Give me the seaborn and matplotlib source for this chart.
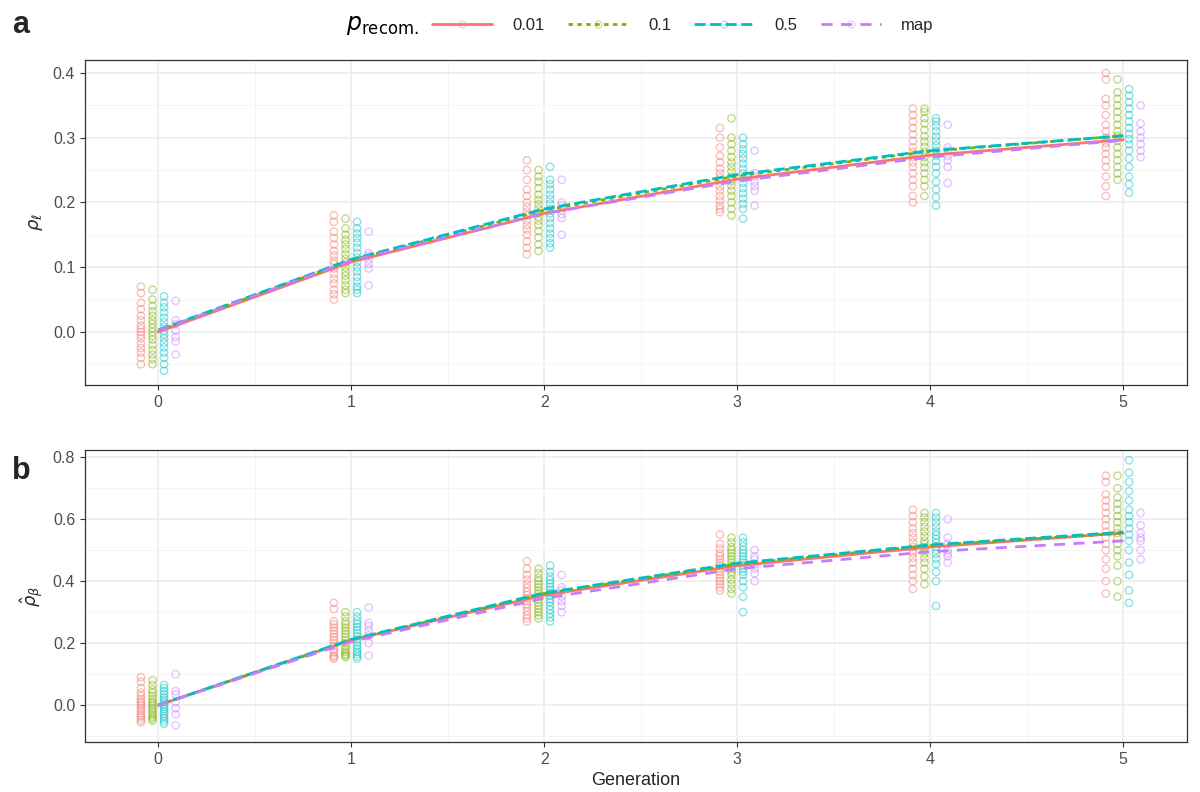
import numpy as np
import pandas as pd
import matplotlib
matplotlib.use("Agg")
import matplotlib.pyplot as plt
from matplotlib.lines import Line2D
from matplotlib.legend_handler import HandlerTuple
from matplotlib.ticker import MultipleLocator
import seaborn as sns

generations = [0, 1, 2, 3, 4, 5]
series = ["0.01", "0.1", "0.5", "map"]
colors = ["#F8766D", "#7CAE00", "#00BFC4", "#C77CFF"]

# panel a: rho_l, individual replicates per generation
a_r001 = [
    [0.07, 0.06, 0.045, 0.035, 0.025, 0.018, 0.01, 0.005, 0.0, -0.005, -0.01, -0.018, -0.025, -0.032, -0.04, -0.05],
    [0.18, 0.17, 0.155, 0.145, 0.135, 0.125, 0.118, 0.11, 0.105, 0.098, 0.09, 0.082, 0.075, 0.065, 0.058, 0.05],
    [0.265, 0.25, 0.235, 0.22, 0.21, 0.2, 0.193, 0.186, 0.18, 0.172, 0.165, 0.158, 0.15, 0.14, 0.13, 0.12],
    [0.315, 0.3, 0.285, 0.272, 0.262, 0.252, 0.245, 0.238, 0.232, 0.225, 0.218, 0.21, 0.203, 0.195, 0.19, 0.185],
    [0.345, 0.335, 0.325, 0.315, 0.305, 0.295, 0.285, 0.278, 0.27, 0.262, 0.255, 0.245, 0.235, 0.225, 0.21, 0.2],
    [0.4, 0.39, 0.36, 0.35, 0.335, 0.32, 0.31, 0.3, 0.292, 0.285, 0.275, 0.265, 0.255, 0.24, 0.225, 0.21],
]
a_r01 = [
    [0.065, 0.05, 0.04, 0.032, 0.025, 0.018, 0.012, 0.006, 0.0, -0.006, -0.012, -0.02, -0.028, -0.035, -0.042, -0.05],
    [0.175, 0.16, 0.15, 0.142, 0.135, 0.128, 0.12, 0.113, 0.107, 0.1, 0.093, 0.087, 0.08, 0.072, 0.065, 0.06],
    [0.25, 0.24, 0.232, 0.222, 0.212, 0.204, 0.197, 0.19, 0.184, 0.178, 0.172, 0.165, 0.156, 0.146, 0.135, 0.125],
    [0.33, 0.3, 0.29, 0.28, 0.27, 0.262, 0.255, 0.248, 0.24, 0.233, 0.226, 0.218, 0.21, 0.2, 0.19, 0.18],
    [0.345, 0.34, 0.33, 0.322, 0.312, 0.302, 0.294, 0.286, 0.278, 0.27, 0.262, 0.254, 0.245, 0.235, 0.225, 0.21],
    [0.39, 0.37, 0.36, 0.35, 0.34, 0.33, 0.32, 0.31, 0.303, 0.295, 0.285, 0.275, 0.265, 0.255, 0.245, 0.235],
]
a_r05 = [
    [0.055, 0.045, 0.038, 0.03, 0.022, 0.015, 0.008, 0.002, -0.004, -0.01, -0.017, -0.024, -0.032, -0.04, -0.05, -0.06],
    [0.17, 0.16, 0.152, 0.145, 0.138, 0.13, 0.122, 0.115, 0.108, 0.1, 0.093, 0.085, 0.078, 0.07, 0.065, 0.06],
    [0.255, 0.235, 0.228, 0.22, 0.212, 0.205, 0.198, 0.19, 0.183, 0.176, 0.168, 0.16, 0.152, 0.145, 0.137, 0.13],
    [0.3, 0.29, 0.282, 0.275, 0.268, 0.26, 0.252, 0.245, 0.238, 0.23, 0.222, 0.214, 0.206, 0.198, 0.19, 0.175],
    [0.33, 0.325, 0.318, 0.31, 0.302, 0.295, 0.288, 0.28, 0.272, 0.264, 0.255, 0.245, 0.232, 0.22, 0.208, 0.195],
    [0.375, 0.365, 0.355, 0.345, 0.335, 0.325, 0.315, 0.306, 0.298, 0.29, 0.28, 0.268, 0.255, 0.24, 0.228, 0.215],
]
a_map = [
    [0.048, 0.018, 0.012, 0.002, -0.008, -0.015, -0.035],
    [0.155, 0.122, 0.118, 0.112, 0.105, 0.098, 0.072],
    [0.235, 0.2, 0.195, 0.188, 0.182, 0.176, 0.15],
    [0.28, 0.245, 0.24, 0.232, 0.225, 0.218, 0.195],
    [0.32, 0.285, 0.28, 0.272, 0.265, 0.255, 0.23],
    [0.35, 0.322, 0.31, 0.3, 0.29, 0.28, 0.27],
]
a_mean = {
    "0.01": [0.0, 0.108, 0.183, 0.236, 0.273, 0.297],
    "0.1": [0.002, 0.111, 0.188, 0.241, 0.279, 0.303],
    "0.5": [0.003, 0.112, 0.19, 0.243, 0.28, 0.303],
    "map": [0.002, 0.11, 0.183, 0.233, 0.27, 0.296],
}

# panel b: rho_beta hat
b_r001 = [
    [0.09, 0.075, 0.055, 0.04, 0.03, 0.02, 0.012, 0.005, -0.002, -0.01, -0.018, -0.026, -0.034, -0.04, -0.048, -0.055],
    [0.33, 0.31, 0.27, 0.26, 0.25, 0.24, 0.23, 0.22, 0.21, 0.2, 0.19, 0.18, 0.17, 0.16, 0.155, 0.15],
    [0.465, 0.44, 0.42, 0.405, 0.39, 0.378, 0.366, 0.355, 0.345, 0.335, 0.325, 0.315, 0.303, 0.29, 0.28, 0.27],
    [0.55, 0.52, 0.505, 0.49, 0.48, 0.47, 0.46, 0.45, 0.44, 0.43, 0.42, 0.41, 0.4, 0.39, 0.38, 0.37],
    [0.63, 0.61, 0.59, 0.57, 0.555, 0.54, 0.525, 0.51, 0.5, 0.49, 0.475, 0.46, 0.44, 0.42, 0.4, 0.375],
    [0.74, 0.72, 0.68, 0.66, 0.64, 0.62, 0.6, 0.58, 0.56, 0.54, 0.52, 0.5, 0.47, 0.44, 0.4, 0.36],
]
b_r01 = [
    [0.08, 0.065, 0.05, 0.04, 0.03, 0.02, 0.012, 0.005, -0.002, -0.01, -0.017, -0.025, -0.032, -0.038, -0.044, -0.05],
    [0.3, 0.285, 0.27, 0.26, 0.25, 0.24, 0.23, 0.22, 0.21, 0.2, 0.19, 0.18, 0.172, 0.165, 0.16, 0.155],
    [0.44, 0.425, 0.41, 0.4, 0.39, 0.38, 0.37, 0.36, 0.35, 0.34, 0.33, 0.32, 0.31, 0.3, 0.29, 0.28],
    [0.54, 0.525, 0.51, 0.5, 0.49, 0.48, 0.47, 0.46, 0.45, 0.44, 0.43, 0.42, 0.405, 0.39, 0.375, 0.36],
    [0.62, 0.605, 0.59, 0.575, 0.56, 0.545, 0.53, 0.52, 0.51, 0.5, 0.49, 0.475, 0.46, 0.44, 0.415, 0.39],
    [0.74, 0.7, 0.67, 0.65, 0.63, 0.61, 0.59, 0.57, 0.555, 0.54, 0.52, 0.5, 0.48, 0.45, 0.4, 0.35],
]
b_r05 = [
    [0.065, 0.055, 0.045, 0.035, 0.025, 0.017, 0.009, 0.002, -0.005, -0.012, -0.02, -0.028, -0.036, -0.044, -0.052, -0.06],
    [0.3, 0.285, 0.272, 0.262, 0.252, 0.242, 0.232, 0.222, 0.212, 0.202, 0.192, 0.182, 0.172, 0.165, 0.157, 0.15],
    [0.45, 0.43, 0.415, 0.403, 0.392, 0.382, 0.372, 0.362, 0.352, 0.342, 0.332, 0.32, 0.308, 0.295, 0.283, 0.27],
    [0.54, 0.525, 0.512, 0.5, 0.49, 0.48, 0.47, 0.46, 0.45, 0.44, 0.43, 0.42, 0.4, 0.38, 0.35, 0.3],
    [0.62, 0.605, 0.59, 0.575, 0.56, 0.548, 0.536, 0.524, 0.512, 0.5, 0.488, 0.472, 0.455, 0.43, 0.4, 0.32],
    [0.79, 0.75, 0.72, 0.69, 0.66, 0.63, 0.61, 0.59, 0.57, 0.55, 0.53, 0.5, 0.46, 0.42, 0.37, 0.33],
]
b_map = [
    [0.1, 0.045, 0.035, 0.01, -0.01, -0.03, -0.065],
    [0.315, 0.265, 0.255, 0.24, 0.225, 0.2, 0.16],
    [0.42, 0.38, 0.37, 0.35, 0.335, 0.32, 0.3],
    [0.5, 0.48, 0.47, 0.455, 0.44, 0.425, 0.4],
    [0.6, 0.54, 0.52, 0.5, 0.49, 0.48, 0.46],
    [0.62, 0.58, 0.555, 0.54, 0.53, 0.5, 0.47],
]
b_mean = {
    "0.01": [0.0, 0.21, 0.355, 0.45, 0.51, 0.555],
    "0.1": [0.0, 0.21, 0.36, 0.455, 0.515, 0.555],
    "0.5": [0.0, 0.212, 0.362, 0.458, 0.517, 0.558],
    "map": [0.0, 0.205, 0.345, 0.44, 0.495, 0.53],
}

dodge = {"0.01": -0.09, "0.1": -0.03, "0.5": 0.03, "map": 0.09}
dash_map = {"0.01": "", "0.1": (1.6, 1.6), "0.5": (4, 1.6), "map": (4, 3)}
palette = dict(zip(series, colors))


def points_df(groups):
    rows = []
    for s, vals in zip(series, groups):
        for g, vs in zip(generations, vals):
            for v in vs:
                rows.append({"gen": g + dodge[s], "val": v, "p": s})
    return pd.DataFrame(rows)


def means_df(means):
    rows = []
    for s in series:
        for g, v in zip(generations, means[s]):
            rows.append({"gen": g, "val": v, "p": s})
    return pd.DataFrame(rows)


sns.set_style("white")
plt.rcParams["font.family"] = ["Liberation Sans", "DejaVu Sans"]
plt.rcParams["mathtext.fontset"] = "dejavusans"

fig = plt.figure(figsize=(12, 7.92), dpi=100)
ax_a = fig.add_axes([0.0708, 0.5139, 0.9183, 0.4103])
ax_b = fig.add_axes([0.0708, 0.0631, 0.9183, 0.3687])


def draw(ax, groups, means, ylim, ymaj, ymin, ylabel):
    pdf = points_df(groups)
    sns.scatterplot(data=pdf, x="gen", y="val", hue="p", hue_order=series,
                    palette=palette, s=28, marker="o", ax=ax, legend=False,
                    zorder=2)
    coll = ax.collections[-1]
    fc = coll.get_facecolors().copy()
    fc[:, 3] = 0.45
    coll.set_facecolors("none")
    coll.set_edgecolors(fc)
    coll.set_linewidths(1.0)

    mdf = means_df(means)
    sns.lineplot(data=mdf, x="gen", y="val", hue="p", style="p",
                 hue_order=series, style_order=series, palette=palette,
                 dashes=dash_map, linewidth=2.0, ax=ax, legend=False,
                 zorder=3)

    ax.set_xlim(-0.38, 5.33)
    ax.set_ylim(*ylim)
    ax.xaxis.set_major_locator(MultipleLocator(1))
    ax.xaxis.set_minor_locator(MultipleLocator(0.5))
    ax.yaxis.set_major_locator(MultipleLocator(ymaj))
    ax.yaxis.set_minor_locator(MultipleLocator(ymin))
    ax.yaxis.set_major_formatter(plt.FormatStrFormatter("%.1f"))
    ax.grid(True, which="major", color="#EBEBEB", lw=1.1, zorder=0)
    ax.grid(True, which="minor", color="#F2F2F2", lw=0.6, zorder=0)
    ax.set_axisbelow(True)
    for sp in ax.spines.values():
        sp.set_color("#333333")
        sp.set_linewidth(0.9)
    ax.tick_params(which="major", length=3.5, width=0.8, color="#333333",
                   labelcolor="#4D4D4D", labelsize=11.5, left=True, bottom=True)
    ax.tick_params(which="minor", length=0)
    ax.set_ylabel(ylabel, fontsize=13, labelpad=6)
    ax.set_xlabel("")


draw(ax_a, [a_r001, a_r01, a_r05, a_map], a_mean, (-0.082, 0.42), 0.1, 0.05,
     r"$\rho_{\ell}$")
draw(ax_b, [b_r001, b_r01, b_r05, b_map], b_mean, (-0.119, 0.823), 0.2, 0.1,
     r"$\hat{\rho}_{\beta}$")
ax_b.set_xlabel("Generation", fontsize=13, labelpad=4)

fig.text(0.01, 0.968, "a", fontsize=22, fontweight="bold", va="center")
fig.text(0.01, 0.405, "b", fontsize=22, fontweight="bold", va="center")

# legend
handles = []
for s, c in zip(series, colors):
    ln = Line2D([], [], color=c, lw=2.0, linestyle="-" if s == "0.01" else (0, dash_map[s]))
    mk = Line2D([], [], color="none", marker="o", markersize=5,
                markerfacecolor="none", markeredgecolor=c, alpha=0.35)
    handles.append((ln, mk))
fig.text(0.288, 0.968, r"$p_{\mathrm{recom.}}$", fontsize=17, va="center",
         color="black")
fig.legend(handles, series, loc="center", bbox_to_anchor=(0.569, 0.968),
           ncol=4, frameon=False, fontsize=12, handlelength=3.6,
           columnspacing=1.4, handletextpad=1.2,
           handler_map={tuple: HandlerTuple(ndivide=1, pad=0)})

fig.savefig("out.png", dpi=100)
